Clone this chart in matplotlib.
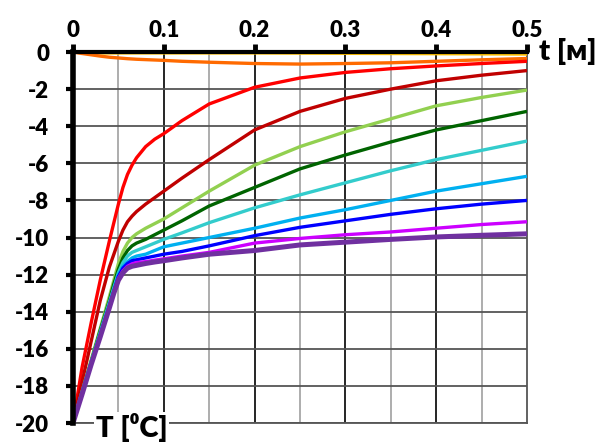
import matplotlib.pyplot as plt
import numpy as np

plt.rcParams['font.family'] = ['Lato', 'DejaVu Sans']
plt.rcParams['font.weight'] = 'heavy'

t = [0, 0.01, 0.02, 0.03, 0.04, 0.045, 0.05, 0.055, 0.06, 0.065, 0.07, 0.08, 0.09, 0.1,
     0.12, 0.15, 0.2, 0.25, 0.3, 0.35, 0.4, 0.45, 0.5]

yellow = [0, -0.04, -0.05, -0.05, -0.05, -0.05, -0.05, -0.05, -0.05, -0.05, -0.05, -0.05, -0.05, -0.05,
          -0.05, -0.05, -0.05, -0.06, -0.07, -0.08, -0.09, -0.1, -0.11]
orange = [0, -0.08, -0.15, -0.22, -0.28, -0.3, -0.32, -0.34, -0.36, -0.375, -0.39, -0.41, -0.43, -0.45,
          -0.5, -0.55, -0.62, -0.65, -0.62, -0.58, -0.5, -0.42, -0.35]
red = [-20, -17.0, -14.6, -12.3, -10.2, -9.2, -8.2, -7.3, -6.6, -6.1, -5.7, -5.1, -4.7, -4.4,
       -3.7, -2.8, -1.9, -1.4, -1.1, -0.9, -0.75, -0.62, -0.5]
darkred = [-20, -17.8, -15.6, -13.4, -11.6, -10.9, -10.2, -9.6, -9.15, -8.85, -8.6, -8.2, -7.85, -7.5,
           -6.8, -5.8, -4.2, -3.2, -2.5, -2.0, -1.55, -1.25, -1.0]
lightgreen = [-20, -18.3, -16.6, -14.9, -13.2, -12.3, -11.4, -10.75, -10.3, -10.0, -9.8, -9.5, -9.25, -9.0,
              -8.4, -7.5, -6.1, -5.1, -4.3, -3.6, -2.9, -2.45, -2.05]
darkgreen = [-20, -18.35, -16.7, -15.0, -13.4, -12.5, -11.7, -11.1, -10.7, -10.45, -10.3, -10.1, -9.85, -9.6,
             -9.1, -8.3, -7.3, -6.3, -5.55, -4.85, -4.2, -3.7, -3.2]
turquoise = [-20, -18.35, -16.7, -15.1, -13.5, -12.7, -11.9, -11.35, -11.0, -10.8, -10.7, -10.5, -10.3, -10.1,
             -9.75, -9.2, -8.4, -7.7, -7.05, -6.4, -5.8, -5.3, -4.8]
skyblue = [-20, -18.4, -16.75, -15.2, -13.6, -12.8, -12.0, -11.55, -11.3, -11.1, -11.0, -10.9, -10.7, -10.5,
           -10.3, -10.0, -9.5, -8.95, -8.5, -8.0, -7.5, -7.1, -6.7]
blue = [-20, -18.4, -16.8, -15.25, -13.7, -12.9, -12.1, -11.65, -11.4, -11.25, -11.2, -11.1, -11.0, -10.9,
        -10.75, -10.45, -9.9, -9.45, -9.1, -8.75, -8.45, -8.2, -8.0]
magenta = [-20, -18.4, -16.8, -15.3, -13.75, -12.95, -12.2, -11.8, -11.55, -11.42, -11.35, -11.3, -11.22, -11.15,
           -11.0, -10.8, -10.3, -10.05, -9.85, -9.7, -9.5, -9.3, -9.15]
purple = [-20, -18.45, -16.85, -15.35, -13.8, -13.0, -12.3, -11.9, -11.65, -11.55, -11.5, -11.4, -11.32, -11.25,
          -11.1, -10.9, -10.7, -10.4, -10.25, -10.1, -9.97, -9.88, -9.8]

series = [yellow, orange, red, darkred, lightgreen, darkgreen, turquoise, skyblue, blue, magenta, purple]
colors = ['#FFC000', '#FF6A00', '#FF0000', '#C00000', '#92D050', '#006400',
          '#33CCCC', '#00B0F0', '#0000FF', '#CC00FF', '#7030A0']

xticks = [0, 0.1, 0.2, 0.3, 0.4, 0.5]
xticklabels = ['0', '0.1', '0.2', '0.3', '0.4', '0.5']
yticks = list(range(-20, 1, 2))

fig = plt.figure(figsize=(6.15, 4.45), dpi=100)
ax = fig.add_axes([0.1187, 0.0494, 0.7382, 0.8337])

for vals, c in zip(series, colors):
    lw = 3.6 if c == '#7030A0' else 2.4
    ax.plot(t, vals, color=c, lw=lw, solid_capstyle='butt', solid_joinstyle='round', zorder=3)

ax.set_xlim(0, 0.5)
ax.set_ylim(-20, 0)

# grid
for x in np.arange(0.05, 0.5, 0.1):
    ax.axvline(x, color='#A0A0A0', lw=1.2, zorder=1)
for x in [0.1, 0.2, 0.3, 0.4]:
    ax.axvline(x, color='black', lw=1.2, zorder=1)
for y in yticks[:-1]:
    ax.axhline(y, color='#555555', lw=1.3, zorder=1)

ax.xaxis.tick_top()
ax.set_xticks(xticks)
ax.set_xticklabels(xticklabels, fontsize=16, fontweight='heavy')
ax.set_yticks(yticks)
ax.set_yticklabels([str(v) for v in yticks], fontsize=16, fontweight='heavy')
ax.tick_params(axis='x', direction='out', length=6, width=3.5, pad=2)
ax.tick_params(axis='y', direction='out', length=5, width=3, pad=12)

ax.spines['left'].set_linewidth(4)
ax.spines['top'].set_linewidth(3)
ax.spines['right'].set_color('#555555')
ax.spines['right'].set_linewidth(1.3)
ax.spines['bottom'].set_color('#555555')
ax.spines['bottom'].set_linewidth(1.3)
ax.spines['left'].set_zorder(4)
ax.spines['top'].set_zorder(4)

fig.text(0.877, 0.885, 't [м]', fontsize=21, fontweight='heavy', va='center', ha='left')
ax.text(0.025, -20.25, 'T [⁰C]', fontsize=21, fontweight='heavy', va='center', ha='left',
        bbox=dict(facecolor='white', edgecolor='none', pad=1), zorder=5)

fig.savefig('out.png', dpi=100)
